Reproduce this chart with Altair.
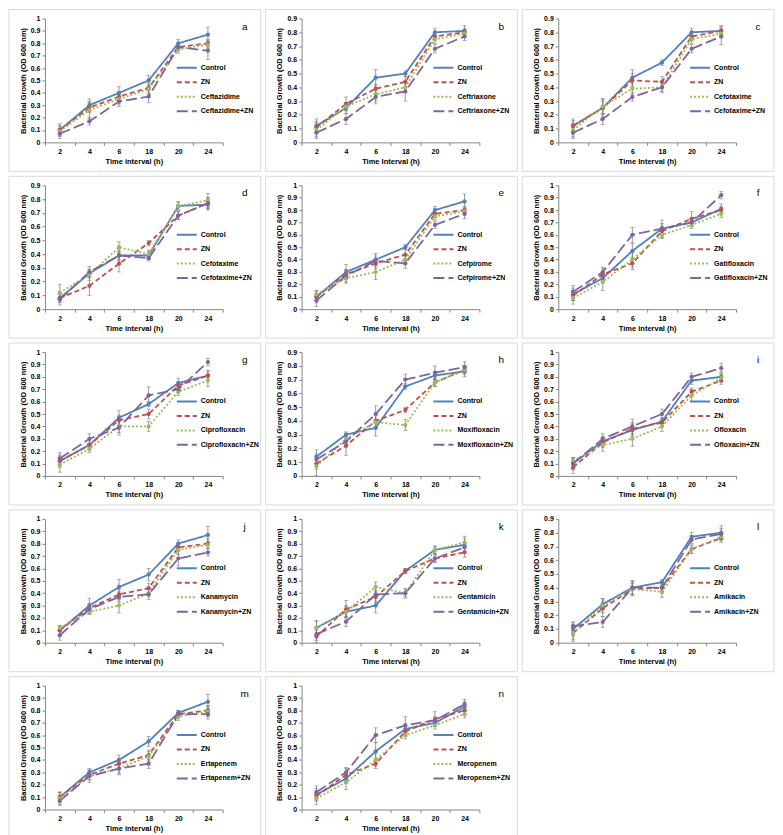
import altair as alt
import pandas as pd

TIMES = ["2", "4", "6", "18", "20", "24"]
LETTERS = ["a", "b", "c", "d", "e", "f", "g", "h", "i", "j", "k", "l", "m", "n"]
DRUGS = ["Ceftazidime", "Ceftriaxone", "Cefotaxime", "Cefotaxime", "Cefpirome", "Gatifloxacin",
         "Ciprofloxacin", "Moxifloxacin", "Ofloxacin", "Kanamycin", "Gentamicin", "Amikacin",
         "Ertapenem", "Meropenem"]
YMAX = [1, 0.9, 0.9, 0.9, 1, 1, 1, 0.9, 1, 1, 1, 0.9, 1, 1]
XTITLES = ["Time interval (h)", "Time Interval (h)", "Time Interval (h)", "Time interval (h)",
           "Time Interval (h)", "Time interval (h)", "Time interval (h)", "Time interval (h)",
           "Time interval (h)", "Time interval (h)", "Time interval (h)", "Time interval (h)",
           "Time interval (h)", "Time interval (h)"]

# values: [Control, ZN, Drug, Drug+ZN] at 2,4,6,18,20,24 h
VAL_A = [[0.10, 0.30, 0.40, 0.50, 0.80, 0.87], [0.10, 0.28, 0.37, 0.44, 0.77, 0.80],
         [0.09, 0.26, 0.35, 0.43, 0.75, 0.79], [0.07, 0.17, 0.33, 0.37, 0.77, 0.74]]
VAL_B = [[0.12, 0.25, 0.47, 0.50, 0.80, 0.81], [0.11, 0.28, 0.39, 0.44, 0.77, 0.80],
         [0.09, 0.26, 0.35, 0.40, 0.75, 0.79], [0.07, 0.17, 0.33, 0.37, 0.68, 0.77]]
VAL_C = [[0.12, 0.25, 0.47, 0.58, 0.80, 0.81], [0.12, 0.25, 0.45, 0.44, 0.77, 0.81],
         [0.09, 0.26, 0.39, 0.40, 0.75, 0.79], [0.07, 0.17, 0.33, 0.40, 0.68, 0.77]]
VAL_D = [[0.08, 0.26, 0.39, 0.39, 0.75, 0.76], [0.08, 0.17, 0.33, 0.48, 0.68, 0.77],
         [0.12, 0.25, 0.45, 0.40, 0.75, 0.79], [0.07, 0.27, 0.39, 0.37, 0.68, 0.77]]
VAL_E = [[0.10, 0.30, 0.40, 0.50, 0.80, 0.87], [0.10, 0.28, 0.37, 0.44, 0.77, 0.80],
         [0.12, 0.25, 0.30, 0.40, 0.75, 0.79], [0.07, 0.27, 0.39, 0.37, 0.68, 0.77]]
VAL_F = [[0.12, 0.25, 0.47, 0.65, 0.70, 0.81], [0.11, 0.28, 0.37, 0.63, 0.73, 0.80],
         [0.09, 0.22, 0.40, 0.60, 0.68, 0.77], [0.14, 0.30, 0.60, 0.65, 0.70, 0.92]]
VAL_G = [[0.12, 0.25, 0.47, 0.58, 0.75, 0.81], [0.12, 0.25, 0.45, 0.50, 0.73, 0.81],
         [0.09, 0.22, 0.40, 0.40, 0.68, 0.77], [0.14, 0.30, 0.39, 0.65, 0.70, 0.92]]
VAL_H = [[0.14, 0.30, 0.35, 0.65, 0.73, 0.76], [0.09, 0.22, 0.40, 0.48, 0.68, 0.77],
         [0.07, 0.27, 0.39, 0.37, 0.68, 0.77], [0.12, 0.25, 0.45, 0.70, 0.75, 0.79]]
VAL_I = [[0.10, 0.28, 0.37, 0.44, 0.77, 0.80], [0.07, 0.27, 0.38, 0.43, 0.68, 0.77],
         [0.12, 0.25, 0.30, 0.40, 0.65, 0.79], [0.10, 0.30, 0.40, 0.50, 0.80, 0.87]]
VAL_J = [[0.10, 0.30, 0.45, 0.55, 0.80, 0.87], [0.10, 0.28, 0.39, 0.44, 0.77, 0.80],
         [0.12, 0.25, 0.30, 0.40, 0.75, 0.79], [0.06, 0.27, 0.37, 0.39, 0.68, 0.73]]
VAL_K = [[0.12, 0.25, 0.30, 0.58, 0.75, 0.79], [0.05, 0.27, 0.37, 0.58, 0.68, 0.73],
         [0.12, 0.25, 0.45, 0.40, 0.75, 0.81], [0.07, 0.17, 0.39, 0.40, 0.68, 0.77]]
VAL_L = [[0.10, 0.28, 0.40, 0.44, 0.77, 0.80], [0.07, 0.25, 0.39, 0.40, 0.68, 0.76],
         [0.07, 0.27, 0.39, 0.37, 0.68, 0.77], [0.12, 0.15, 0.40, 0.40, 0.75, 0.79]]
VAL_M = [[0.10, 0.30, 0.40, 0.55, 0.78, 0.87], [0.10, 0.28, 0.37, 0.44, 0.77, 0.80],
         [0.09, 0.27, 0.33, 0.43, 0.75, 0.79], [0.07, 0.27, 0.33, 0.37, 0.77, 0.77]]
VAL_N = [[0.12, 0.25, 0.47, 0.65, 0.70, 0.83], [0.11, 0.28, 0.37, 0.63, 0.73, 0.80],
         [0.09, 0.22, 0.40, 0.60, 0.68, 0.77], [0.14, 0.30, 0.60, 0.68, 0.72, 0.85]]
VALUES = [VAL_A, VAL_B, VAL_C, VAL_D, VAL_E, VAL_F, VAL_G, VAL_H, VAL_I, VAL_J, VAL_K, VAL_L, VAL_M, VAL_N]

# error bar half-lengths, same layout
ERR_A = [[0.05, 0.05, 0.05, 0.04, 0.03, 0.06], [0.04, 0.04, 0.04, 0.04, 0.03, 0.03],
         [0.04, 0.07, 0.04, 0.04, 0.03, 0.03], [0.04, 0.03, 0.04, 0.05, 0.03, 0.07]]
ERR_B = [[0.05, 0.04, 0.06, 0.02, 0.03, 0.04], [0.04, 0.05, 0.03, 0.04, 0.03, 0.03],
         [0.05, 0.03, 0.05, 0.04, 0.03, 0.03], [0.04, 0.04, 0.05, 0.07, 0.03, 0.03]]
ERR_C = [[0.05, 0.07, 0.06, 0.02, 0.03, 0.04], [0.04, 0.05, 0.05, 0.04, 0.03, 0.03],
         [0.05, 0.05, 0.04, 0.03, 0.03, 0.03], [0.04, 0.04, 0.03, 0.04, 0.03, 0.06]]
ERR_D = [[0.03, 0.03, 0.04, 0.03, 0.03, 0.04], [0.03, 0.07, 0.06, 0.02, 0.03, 0.04],
         [0.06, 0.04, 0.04, 0.03, 0.03, 0.05], [0.04, 0.04, 0.03, 0.02, 0.03, 0.04]]
ERR_E = [[0.05, 0.06, 0.05, 0.02, 0.03, 0.06], [0.04, 0.04, 0.04, 0.04, 0.03, 0.03],
         [0.03, 0.04, 0.06, 0.04, 0.03, 0.03], [0.05, 0.05, 0.04, 0.04, 0.03, 0.04]]
ERR_F = [[0.05, 0.04, 0.06, 0.04, 0.03, 0.04], [0.04, 0.05, 0.05, 0.04, 0.06, 0.03],
         [0.05, 0.07, 0.06, 0.03, 0.03, 0.03], [0.05, 0.04, 0.06, 0.07, 0.03, 0.03]]
ERR_G = [[0.05, 0.04, 0.06, 0.02, 0.04, 0.04], [0.04, 0.04, 0.04, 0.04, 0.03, 0.04],
         [0.06, 0.03, 0.05, 0.04, 0.03, 0.05], [0.05, 0.04, 0.06, 0.07, 0.03, 0.03]]
ERR_H = [[0.05, 0.02, 0.06, 0.02, 0.03, 0.04], [0.04, 0.07, 0.05, 0.02, 0.03, 0.03],
         [0.07, 0.04, 0.05, 0.04, 0.03, 0.03], [0.04, 0.04, 0.06, 0.04, 0.05, 0.04]]
ERR_I = [[0.05, 0.04, 0.05, 0.03, 0.03, 0.04], [0.05, 0.04, 0.05, 0.03, 0.03, 0.03],
         [0.03, 0.05, 0.06, 0.04, 0.05, 0.03], [0.04, 0.04, 0.06, 0.04, 0.03, 0.04]]
ERR_J = [[0.04, 0.06, 0.06, 0.05, 0.03, 0.07], [0.03, 0.04, 0.04, 0.04, 0.03, 0.04],
         [0.02, 0.02, 0.06, 0.03, 0.04, 0.03], [0.04, 0.04, 0.04, 0.04, 0.06, 0.03]]
ERR_K = [[0.05, 0.04, 0.06, 0.02, 0.03, 0.05], [0.05, 0.07, 0.05, 0.02, 0.03, 0.04],
         [0.06, 0.05, 0.04, 0.03, 0.03, 0.05], [0.05, 0.04, 0.06, 0.04, 0.03, 0.04]]
ERR_L = [[0.05, 0.04, 0.05, 0.02, 0.03, 0.05], [0.05, 0.06, 0.05, 0.03, 0.03, 0.03],
         [0.06, 0.05, 0.04, 0.04, 0.03, 0.03], [0.03, 0.04, 0.05, 0.04, 0.03, 0.04]]
ERR_M = [[0.04, 0.03, 0.04, 0.04, 0.02, 0.06], [0.04, 0.04, 0.04, 0.04, 0.03, 0.04],
         [0.05, 0.05, 0.05, 0.04, 0.03, 0.04], [0.04, 0.03, 0.04, 0.04, 0.03, 0.04]]
ERR_N = [[0.05, 0.04, 0.07, 0.04, 0.03, 0.04], [0.04, 0.05, 0.04, 0.04, 0.06, 0.03],
         [0.05, 0.06, 0.05, 0.03, 0.03, 0.03], [0.05, 0.04, 0.06, 0.07, 0.03, 0.04]]
ERRORS = [ERR_A, ERR_B, ERR_C, ERR_D, ERR_E, ERR_F, ERR_G, ERR_H, ERR_I, ERR_J, ERR_K, ERR_L, ERR_M, ERR_N]

COLORS = ["#4F81BD", "#C0504D", "#9BBB59", "#8064A2"]
DASHES = [[1, 0], [5, 3], [2, 2], [11, 4]]

W, H = 178, 124
FONT = "Liberation Sans"
AXIS_STYLE = dict(grid=False, domainColor="#868686", tickColor="#868686", tickSize=3,
                  labelFont=FONT, labelFontSize=7, labelFontWeight="bold", labelColor="#000000",
                  labelPadding=2, titleFont=FONT, titleFontSize=7.5, titleFontWeight="bold",
                  titleColor="#000000", titlePadding=3, zindex=2)


def panel(i):
    names = ["Control", "ZN", DRUGS[i], DRUGS[i] + "+ZN"]
    rows = []
    for s in range(4):
        for t in range(6):
            v = VALUES[i][s][t]
            e = ERRORS[i][s][t]
            rows.append({"time": TIMES[t], "series": names[s], "value": v,
                         "lo": v - e, "hi": v + e})
    df = pd.DataFrame(rows)
    ticks = [round(k * 0.1, 1) for k in range(int(round(YMAX[i] * 10)) + 1)]

    xenc = alt.X("time:O", sort=TIMES, bandPosition=0.5,
                 scale=alt.Scale(type="band", paddingInner=0, paddingOuter=0),
                 axis=alt.Axis(title=XTITLES[i], labelAngle=0, tickBand="extent", **AXIS_STYLE))
    yscale = alt.Scale(domain=[0, YMAX[i]], nice=False)
    yaxis = alt.Axis(title="Bacterial Growth (OD 600 nm)", values=ticks, format=".1~f",
                     **AXIS_STYLE)
    leg = alt.Legend(orient="none", legendX=W - 42, legendY=H * 0.35, title=None,
                     symbolType="M-2,0L2,0", symbolSize=100, symbolStrokeWidth=2,
                     labelFont=FONT, labelFontSize=7, labelFontWeight="bold",
                     labelColor="#000000", rowPadding=4.5, labelOffset=8, zindex=3)
    color = alt.Color("series:N", scale=alt.Scale(domain=names, range=COLORS), legend=leg)
    dash = alt.StrokeDash("series:N", scale=alt.Scale(domain=names, range=DASHES), legend=leg)

    base = alt.Chart(df)
    frame = alt.Chart(pd.DataFrame({"k": [0]})).mark_rect(
        fill=None, stroke="#d9d9d9", strokeWidth=1).encode(
        x=alt.value(-36), x2=alt.value(W + 38), y=alt.value(-9), y2=alt.value(H + 29))
    bars = base.mark_rule(color="#7f7f7f", strokeWidth=0.8).encode(
        x=xenc, y=alt.Y("lo:Q", scale=yscale, axis=yaxis), y2="hi:Q")
    cap_lo = base.mark_tick(color="#7f7f7f", thickness=0.8, size=4).encode(
        x=xenc, y=alt.Y("lo:Q", scale=yscale, axis=yaxis))
    cap_hi = base.mark_tick(color="#7f7f7f", thickness=0.8, size=4).encode(
        x=xenc, y=alt.Y("hi:Q", scale=yscale, axis=yaxis))
    lines = base.mark_line(strokeWidth=1.8).encode(
        x=xenc, y=alt.Y("value:Q", scale=yscale, axis=yaxis), color=color, strokeDash=dash)
    points = base.mark_point(filled=True, size=18, opacity=1, shape="circle").encode(
        x=xenc, y=alt.Y("value:Q", scale=yscale, axis=yaxis),
        color=alt.Color("series:N", scale=alt.Scale(domain=names, range=COLORS), legend=None))
    letter = alt.Chart(pd.DataFrame({"t": [LETTERS[i]]})).mark_text(
        font=FONT, fontSize=10, color="#000000", align="center", baseline="middle").encode(
        text="t:N", x=alt.value(W + 22), y=alt.value(8))
    return alt.layer(frame, bars, cap_lo, cap_hi, lines, points, letter).properties(
        width=W, height=H)


def indep(c):
    return c.resolve_scale(x="independent", y="independent", color="independent",
                           strokeDash="independent").resolve_legend(
        color="independent", strokeDash="independent")


panels = [panel(i) for i in range(14)]
rows = [indep(alt.hconcat(*panels[r:r + 3], spacing=3)) for r in range(0, 14, 3)]
chart = indep(alt.vconcat(*rows, spacing=3)).properties(
    background="white", padding=0).configure_view(stroke=None)

chart.save("out.html", embed_options={"renderer": "svg", "actions": False})
